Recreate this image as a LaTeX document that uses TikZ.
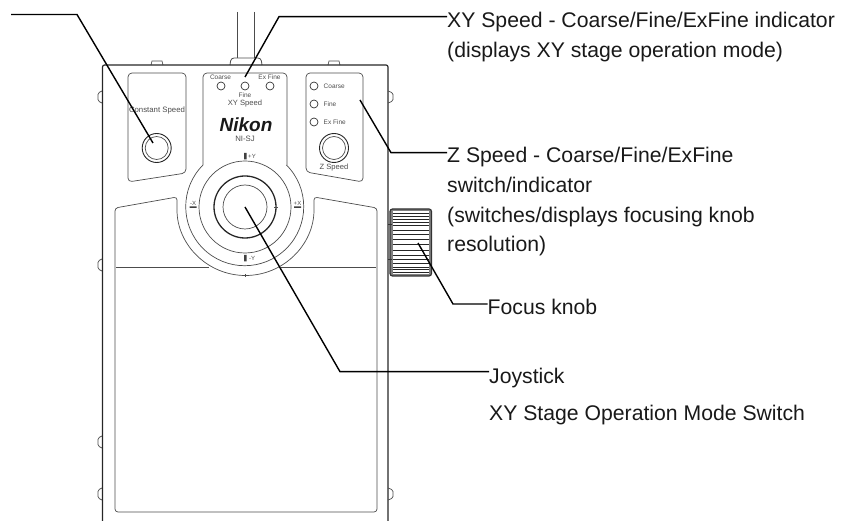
\documentclass[tikz,border=0pt]{standalone}
\usepackage{fontspec}
\setmainfont{Liberation Sans}
\begin{document}
\begin{tikzpicture}[x=1pt,y=1pt,
    bodyline/.style={line width=1.2pt,draw=black!85},
    panelline/.style={line width=0.7pt,draw=black!70},
    leader/.style={line width=1.4pt,draw=black,line join=miter},
    callout/.style={anchor=base west,inner sep=0pt,text=black!90,font=\fontsize{21.2}{24}\selectfont},
    tiny/.style={inner sep=0pt,text=black!70,font=\fontsize{#1}{#1}\selectfont},
    tiny/.default=6.5]
  \useasboundingbox (0,0) rectangle (849,-521);

  % Cable and housing
  \draw[panelline,line width=0.8pt] (237,-12)--(237,-58) (254,-12)--(254,-58);
  \draw[panelline,line width=0.8pt,rounded corners=3pt] (230,-65)--(231,-58)--(261,-58)--(262,-65);
  \draw[panelline] (151,-65)--(152,-61)--(162,-61)--(163,-65);
  \draw[panelline] (328,-65)--(329,-61)--(339,-61)--(340,-65);
  \draw[bodyline,rounded corners=2pt] (102.5,-521)--(102.5,-65)--(388,-65)--(388,-521);

  % Side lugs
  \foreach \lugy in {97,265,442,494}
    \draw[panelline,rounded corners=1.5pt] (102,-\lugy+6)--(98,-\lugy+4)--(98,-\lugy-4)--(102,-\lugy-6);
  \foreach \lugy in {97,494}
    \draw[panelline,rounded corners=1.5pt] (388,-\lugy+6)--(393,-\lugy+4)--(393,-\lugy-4)--(388,-\lugy-6);

  % Upper panels
  \draw[panelline,rounded corners=4pt] (128,-73)--(186,-73)--(186,-173)--(128,-182)--cycle;
  \draw[panelline,rounded corners=4pt] (306,-73)--(363,-73)--(363,-182)--(306,-172)--cycle;
  \draw[panelline] (203,-165)--(203,-77) arc (180:90:4)--(283,-73) arc (90:0:4)--(287,-165);

  % Lower panel
  \draw[panelline,rounded corners=3pt] (177,-207) arc (180:360:68.5)--(314,-197)--(377,-208)--(377,-512)--(115,-512)--(115,-208)--(177,-197)--cycle;
  \draw[panelline] (116,-267)--(209,-267) (281,-267)--(376,-267);

  % Joystick rings
  \coordinate (stick) at (245,-207);
  \draw[panelline] (203,-165) arc (135:405:59);
  \draw[panelline] (stick) circle (46);
  \draw[line width=1.3pt,black!85] (stick) circle (31);
  \draw[panelline] (stick) circle (22);
  \draw[panelline] (245,-274)--(245,-277) (274,-207)--(278,-207);

  % Buttons and lamps
  \coordinate (conbtn) at (156.7,-148);
  \coordinate (zbtn) at (334,-148);
  \foreach \btn in {conbtn,zbtn} {
    \draw[line width=0.9pt,black!85] (\btn) circle (14.5);
    \draw[panelline] (\btn) circle (11.5);
  }
  \foreach \lampx in {221,245,270}
    \draw[line width=0.7pt,black!80] (\lampx,-86) circle (4);
  \foreach \lampy in {86,104,122}
    \draw[line width=0.7pt,black!80] (314,-\lampy) circle (4);

  % Panel texts
  \node[tiny=7.8] (conspeed) at (157,-110) {Constant Speed};
  \node[tiny] (xycoarse) at (220.5,-77.5) {Coarse};
  \node[tiny] (xyfine) at (245,-95) {Fine};
  \node[tiny] (xyexfine) at (269.5,-77.5) {Ex Fine};
  \node[tiny=7.6] (xyspeed) at (245,-103.5) {XY Speed};
  \node[inner sep=0pt,font=\fontsize{19}{19}\selectfont\bfseries\itshape,text=black!90] (logo) at (246,-124.5) {Nikon};
  \node[tiny=7.8] (model) at (245,-139) {NI-SJ};
  \node[tiny,anchor=west] (zcoarse) at (323.5,-86) {Coarse};
  \node[tiny,anchor=west] (zfine) at (323.5,-104) {Fine};
  \node[tiny,anchor=west] (zexfine) at (323.5,-122) {Ex Fine};
  \node[tiny=7.6] (zspeed) at (334,-167.5) {Z Speed};
  \node[tiny=6] (plusy) at (252,-156) {+Y};
  \node[tiny=6] (minusy) at (252,-258) {-Y};
  \node[tiny=6] (minusx) at (193,-203) {-X};
  \node[tiny=6] (plusx) at (297.5,-203) {+X};
  \fill[black!75] (244,-153) rectangle (246.5,-159.5) (244,-255) rectangle (246.5,-261.5);
  \fill[black!75] (189.5,-206.5) rectangle (196.5,-208) (294,-206.5) rectangle (301,-208);

  % Focus knob
  \draw[line width=1.2pt,black!80,fill=black!50,rounded corners=2.5pt] (390,-209) rectangle (431.5,-276);
  \fill[white] (392.5,-211) rectangle (429,-274);
  \foreach \ridge in {213,216,219,222,225,230,234,239,244,250,255,259,263,267,269,272}
    \draw[line width=0.5pt,black!85] (392.5,-\ridge)--(429,-\ridge);
  \draw[line width=1pt,black!80] (388,-225)--(392,-225) (388,-260)--(392,-260);

  % Callout labels
  \node[callout] (lblxy) at (447,-28) {XY Speed - Coarse/Fine/ExFine indicator};
  \node[callout] (lblxyb) at (447,-58) {(displays XY stage operation mode)};
  \node[callout] (lblz) at (447,-163) {Z Speed - Coarse/Fine/ExFine};
  \node[callout] (lblzb) at (447,-193) {switch/indicator};
  \node[callout] (lblzc) at (447,-222.5) {(switches/displays focusing knob};
  \node[callout] (lblzd) at (447,-252) {resolution)};
  \node[callout] (lblknob) at (487.5,-315) {Focus knob};
  \node[callout] (lbljoy) at (489,-383) {Joystick};
  \node[callout] (lblmode) at (489,-420) {XY Stage Operation Mode Switch};

  % Leader lines
  \coordinate (free) at (11,-14.5);
  \coordinate (xylamp) at (245,-77);
  \coordinate (zpanel) at (360,-100);
  \coordinate (knob) at (418,-243);
  \draw[leader] (free)--(77,-14.5)--(153,-143);
  \draw[leader] ([yshift=11.3pt]lblxy.base west)--(279,-16.7)--(xylamp);
  \draw[leader] ([yshift=10.3pt]lblz.base west)--(391,-152.7)--(zpanel);
  \draw[leader] ([yshift=11pt]lblknob.base west)--(453,-304)--(knob);
  \draw[leader] ([yshift=11.3pt]lbljoy.base west)--(340,-371.7)--(stick);
\end{tikzpicture}
\end{document}
